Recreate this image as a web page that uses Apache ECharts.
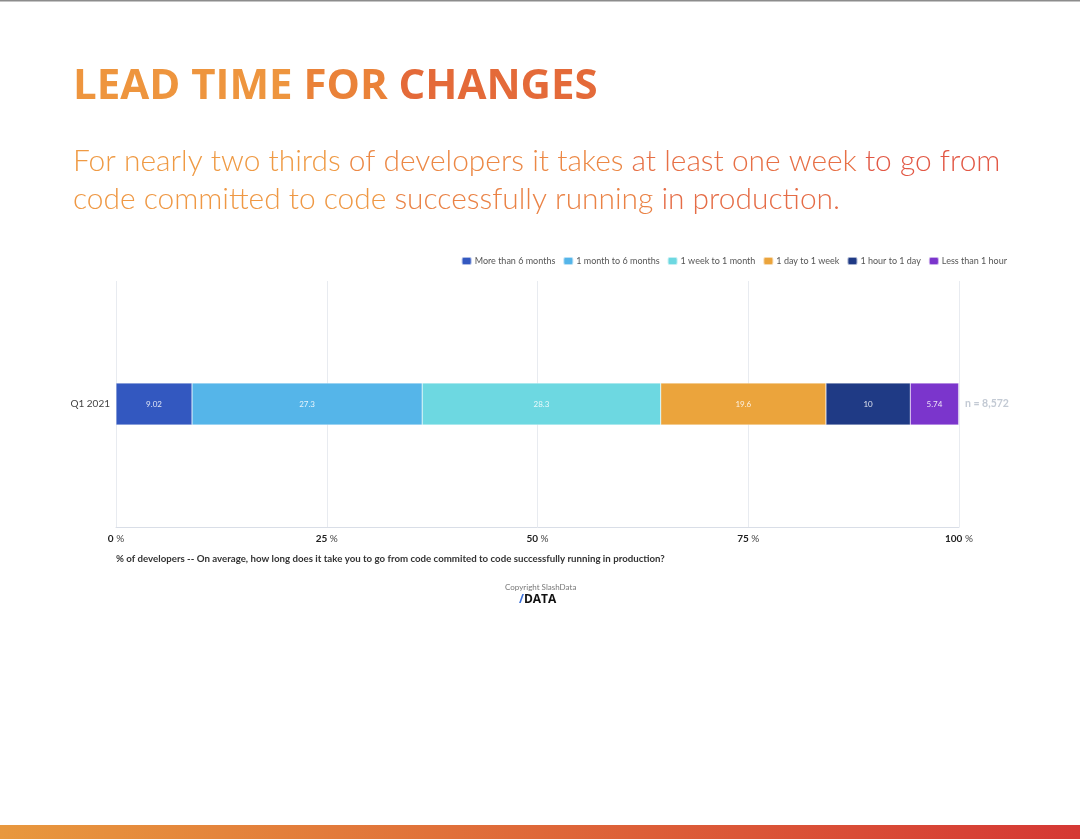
<!DOCTYPE html>
<html>
<head>
<meta charset="utf-8">
<script src="https://cdn.jsdelivr.net/npm/echarts@6/dist/echarts.min.js"></script>
<style>
  html, body { margin: 0; padding: 0; background: #fff; }
  #chart { width: 1080px; height: 839px; }
</style>
</head>
<body>
<div id="chart"></div>
<script>
  // data
  const categories = ['Q1 2021'];
  const seriesNames = ['More than 6 months', '1 month to 6 months', '1 week to 1 month', '1 day to 1 week', '1 hour to 1 day', 'Less than 1 hour'];
  const moreThan6Months = [9.02];
  const month1To6 = [27.3];
  const week1ToMonth1 = [28.3];
  const day1ToWeek1 = [19.6];
  const hour1ToDay1 = [10];
  const lessThanHour1 = [5.74];
  const sampleLabels = ['n = 8,572'];
  const tickValues = [0, 25, 50, 75, 100];

  const colors = ['#3358c0', '#55b5e9', '#6dd8e1', '#eba43c', '#1f3a85', '#7b35cc'];
  const values = [moreThan6Months, month1To6, week1ToMonth1, day1ToWeek1, hour1ToDay1, lessThanHour1];

  const myChart = echarts.init(document.getElementById('chart'));
  const grad = (a, b) => new echarts.graphic.LinearGradient(0, 0, 1, 0, [
    { offset: 0, color: a }, { offset: 1, color: b }
  ]);

  // text gradient is faked with a few coloured chunks
  const titleFont = 'bold 42px "Open Sans", Lato, sans-serif';
  const subFont = '300 29.9px Lato, sans-serif';

  myChart.setOption({
    color: colors,
    textStyle: { fontFamily: 'Lato, sans-serif' },
    animation: false,
    legend: {
      right: 68,
      top: 251,
      itemWidth: 10,
      itemHeight: 8,
      itemGap: 7,
      textStyle: { fontSize: 9, color: '#555', padding: [0, 0, 0, -2] },
      data: seriesNames
    },
    grid: { left: 116, right: 121, top: 281, bottom: 312 },
    xAxis: {
      type: 'value',
      min: 0,
      max: 100,
      interval: 25,
      axisLine: { show: true, lineStyle: { color: '#d9dee7' } },
      axisTick: { show: false },
      splitLine: { lineStyle: { color: '#e8ebf0' } },
      axisLabel: {
        margin: 7,
        formatter: v => tickValues.indexOf(v) >= 0 ? '{b|' + v + '} %' : '',
        color: '#444',
        fontSize: 10,
        rich: { b: { fontWeight: 'bold', color: '#222', fontSize: 10 } }
      }
    },
    yAxis: [{
      type: 'category',
      data: categories,
      axisLine: { show: false },
      axisTick: { show: false },
      axisLabel: { color: '#444', fontSize: 10, margin: 6 }
    }, {
      type: 'category',
      position: 'right',
      data: sampleLabels,
      axisLine: { show: false },
      axisTick: { show: false },
      axisLabel: { color: '#c3cad4', fontSize: 10.5, fontWeight: 'bold', margin: 6 }
    }],
    series: seriesNames.map((name, i) => ({
      name: name,
      type: 'bar',
      stack: 'total',
      barWidth: 42,
      data: values[i],
      itemStyle: { borderColor: 'rgba(255,255,255,0.6)', borderWidth: 0.5 },
      label: {
        show: true,
        position: 'inside',
        color: '#fff',
        fontSize: 8,
        opacity: 0.85
      }
    })),
    graphic: [
      { type: 'rect', left: 0, top: 0, shape: { width: 1080, height: 1.5 }, style: { fill: '#8c8c8c' } },
      {
        type: 'text', left: 73, top: 66,
        style: {
          text: '{a|LEAD TIME }{b|FOR }{c|CHANGES}',
          rich: {
            a: { font: titleFont, fill: '#ee953e' },
            b: { font: titleFont, fill: '#ea8239' },
            c: { font: titleFont, fill: '#e46a39' }
          }
        }
      },
      {
        type: 'text', left: 73, top: 146,
        style: {
          text: '{a|For nearly two thirds }{b|of developers it takes }{c|at least one week }{d|to go from}',
          rich: {
            a: { font: subFont, fill: '#ef9a44' },
            b: { font: subFont, fill: '#ec8845' },
            c: { font: subFont, fill: '#e77046' },
            d: { font: subFont, fill: '#e25845' }
          }
        }
      },
      {
        type: 'text', left: 73, top: 184,
        style: {
          text: '{a|code committed to code }{b|successfully running }{c|in production.}',
          rich: {
            a: { font: subFont, fill: '#ef9844' },
            b: { font: subFont, fill: '#ea8245' },
            c: { font: subFont, fill: '#e56c46' }
          }
        }
      },
      {
        type: 'text', left: 116, top: 554,
        style: {
          text: '% of developers -- On average, how long does it take you to go from code commited to code successfully running in production?',
          font: 'bold 9.7px Lato, sans-serif', fill: '#333'
        }
      },
      {
        type: 'text', left: 505, top: 583,
        style: { text: 'Copyright SlashData', font: '8px Lato, sans-serif', fill: '#777' }
      },
      {
        type: 'text', left: 519, top: 594,
        style: {
          text: '{s|/}{d|DATA}',
          rich: {
            s: { font: 'bold 12px "Open Sans", sans-serif', fill: '#3a6fd8' },
            d: { font: 'bold 12px "Open Sans", sans-serif', fill: '#111' }
          }
        }
      },
      { type: 'rect', left: 0, top: 825, shape: { width: 1080, height: 14 }, style: { fill: grad('#e8983e', '#d53834') } }
    ]
  });
</script>
</body>
</html>
